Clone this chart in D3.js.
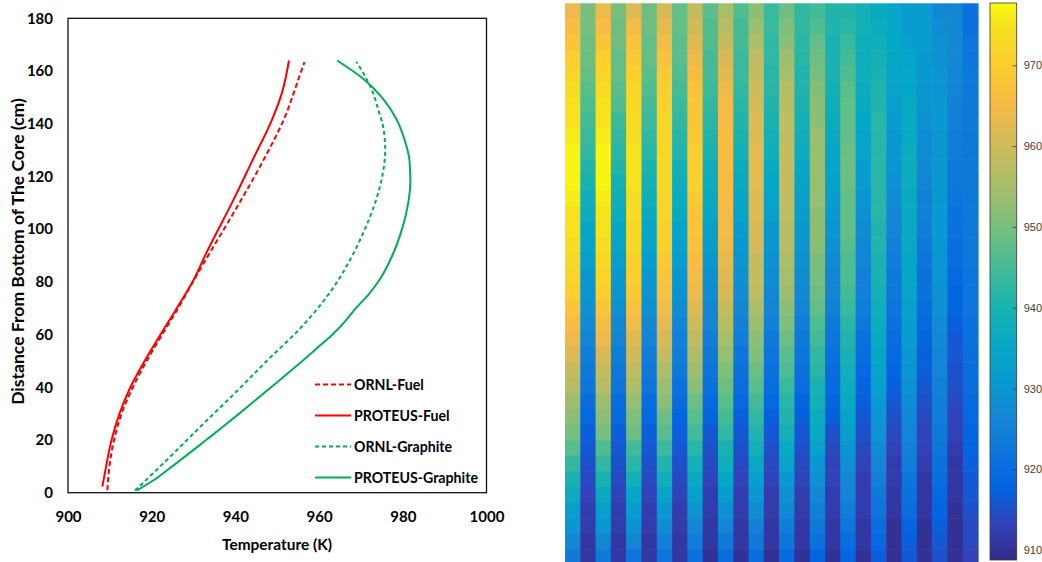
<!DOCTYPE html>
<html>
<head>
<meta charset="utf-8">
<script src="https://cdn.jsdelivr.net/npm/d3@7"></script>
<style>
  html, body { margin: 0; padding: 0; background: #fff; overflow: hidden; }
  svg { display: block; }
</style>
</head>
<body>
<svg id="fig" width="1042" height="562"></svg>
<script>
// ---------- Axial temperature profiles: temperature (K) vs. height (cm) ----------
const ornlFuelT    = [909.4, 909.9, 911.0, 912.8, 915.5, 918.8, 922.5, 926.3, 930.1, 933.8, 939.5, 946.7, 951.5, 955.3, 956.5];
const ornlFuelH    = [1, 10, 20, 30, 40, 50, 60, 70, 80.7, 90.8, 106, 126.2, 141.4, 158, 163.4];
const proteusFuelT = [908.2, 909.1, 910.4, 912.3, 914.9, 918.3, 922.1, 926.0, 930.0, 933.0, 939.5, 944.1, 948.7, 951.1, 952.8];
const proteusFuelH = [2.3, 10, 20, 30, 40, 50, 60, 70, 80.7, 90.8, 111, 126.2, 141.4, 151.6, 164];
const ornlGraphT   = [916.0, 923.6, 931.6, 940.0, 947.5, 955.5, 960.3, 964.6, 968.2, 971.2, 973.6, 975.2, 975.8, 975.3, 974.2, 972.6, 970.6, 968.9];
const ornlGraphH   = [0.8, 12.4, 25, 38, 50, 62.4, 71.2, 80.7, 90.8, 101, 111, 121, 130, 138.9, 145, 152.8, 159.1, 163.5];
const proteusGraphT = [916.4, 920.7, 924.9, 929.0, 933.0, 937.0, 940.9, 944.7, 948.5, 952.3, 956.0, 959.6, 963.2, 966.2, 968.8, 971.7, 974.4, 977.5, 979.8, 981.3, 981.8, 981.6, 980.4, 978.4, 975.0, 970.6, 964.3];
const proteusGraphH = [0.8, 5, 10, 15, 20, 25, 30, 35, 40, 45, 50, 55, 60, 65, 70, 75, 80.7, 90, 100, 110, 118, 126, 134, 142, 150, 157, 164];

const seriesNames = ["ORNL-Fuel", "PROTEUS-Fuel", "ORNL-Graphite", "PROTEUS-Graphite"];
const xTicks = [900, 920, 940, 960, 980, 1000];
const yTicks = [0, 20, 40, 60, 80, 100, 120, 140, 160, 180];
const colorbarTicks = [910, 920, 930, 940, 950, 960, 970];
const colorbarRange = [908.8, 977.7];

// ---------- Channel temperature map (K): one array per channel column, rows top -> bottom ----------
const channelTemps = [
  [964,966,968,970,972,974,975,975,976,977,977,977,976,975,975,974,973,972,970,968,966,964,962,959,957,954,952,950,947,943,940,937,933,930,927,923],
  [950,950,949,949,948,947,946,945,944,943,941,940,938,937,935,934,933,931,930,929,928,926,924,923,922,920,919,917,916,915,914,913,912,912,911,911],
  [964,966,968,970,972,974,975,975,976,977,977,977,976,975,975,974,973,972,970,968,966,964,961,959,957,954,952,950,946,943,940,936,933,930,926,923],
  [950,949,949,948,948,947,946,944,943,942,941,939,938,937,935,934,933,931,930,929,927,926,924,923,922,920,919,917,916,915,914,913,912,912,911,911],
  [962,965,967,969,971,972,973,974,974,975,975,975,974,974,973,973,971,970,969,967,965,962,960,958,956,953,951,949,945,942,939,935,932,929,926,922],
  [949,949,948,948,947,946,945,944,943,942,940,939,938,936,935,934,932,931,930,929,927,926,924,923,922,920,919,917,916,915,914,913,912,912,911,911],
  [961,963,965,967,969,970,971,972,972,973,973,973,972,972,971,971,969,968,967,965,963,961,959,956,954,952,949,947,944,941,938,934,931,928,925,922],
  [948,948,947,947,946,945,944,943,942,941,939,938,937,936,934,933,932,930,929,928,927,925,924,923,921,920,918,917,916,915,914,913,912,912,911,911],
  [958,960,962,964,966,967,968,968,969,970,970,970,969,968,968,967,966,965,964,962,960,958,956,954,952,949,947,945,942,939,936,933,930,927,924,921],
  [947,946,946,945,945,944,943,942,941,940,938,937,936,935,933,932,931,929,928,927,926,924,923,922,921,919,918,916,915,914,913,912,912,911,911,910],
  [955,957,959,961,962,964,965,965,966,966,966,966,966,965,965,964,963,962,961,959,957,955,953,951,949,947,945,943,940,938,935,932,929,926,923,920],
  [946,945,945,944,944,943,942,941,940,939,937,936,935,934,932,931,930,929,928,927,925,924,922,921,920,919,917,916,915,914,913,912,912,911,911,910],
  [952,954,956,958,959,960,961,962,962,963,963,963,962,962,961,961,959,959,958,956,954,952,951,949,947,945,943,941,939,936,933,931,928,925,923,920],
  [944,944,943,943,942,942,941,940,939,938,936,935,934,933,931,930,929,928,927,926,925,923,922,921,920,919,917,916,915,914,913,912,912,911,911,910],
  [949,951,952,954,955,957,957,958,958,959,959,959,958,958,957,957,956,955,954,952,951,949,947,946,944,942,941,939,936,934,931,929,927,924,922,919],
  [943,943,942,942,941,941,940,939,938,937,935,934,933,932,931,930,929,928,927,926,924,923,922,921,920,918,917,916,915,914,913,912,912,911,911,910],
  [945,946,948,949,950,951,952,952,953,953,953,953,953,952,952,952,950,950,949,948,946,945,943,942,940,939,937,936,934,931,929,927,925,923,921,918],
  [941,941,940,940,940,939,938,937,936,935,934,933,932,931,930,929,928,926,926,925,923,922,921,920,919,918,917,915,914,913,913,912,912,911,911,910],
  [941,942,944,945,946,947,948,948,948,949,949,949,948,948,948,947,946,946,945,944,942,941,940,939,937,936,934,933,931,929,927,926,924,922,920,918],
  [939,939,938,938,938,937,936,935,934,934,932,932,930,929,928,927,927,925,925,924,923,921,920,919,918,917,916,915,914,913,912,912,912,911,911,910],
  [936,937,938,939,940,941,941,942,942,942,942,942,942,942,941,941,940,940,939,938,937,936,935,934,933,932,931,930,928,926,925,923,922,920,919,917],
  [935,935,935,935,934,934,933,932,931,931,930,929,928,927,926,925,924,923,923,922,921,920,919,918,917,916,915,914,913,912,912,911,911,910,910,910],
  [932,932,933,934,935,935,936,936,936,937,937,937,936,936,936,936,935,935,934,933,932,932,931,930,929,928,927,926,925,924,922,921,920,918,917,916],
  [932,932,932,931,931,930,930,929,928,928,927,926,925,925,924,923,922,921,921,920,919,918,917,917,916,915,914,913,913,912,911,911,911,910,910,910],
  [927,928,929,929,930,930,931,931,931,931,931,931,931,931,931,930,930,930,929,929,928,927,926,926,925,924,924,923,922,921,920,919,918,917,916,915],
  [927,927,927,927,926,926,925,925,924,924,923,923,922,921,921,920,920,919,918,918,917,916,916,915,915,914,913,913,912,911,911,911,910,910,910,910],
  [921,921,922,922,923,923,923,923,923,923,923,923,923,923,923,923,923,922,922,922,921,921,920,920,920,919,919,918,918,917,916,916,915,914,914,913]
];

// ---------- Parula colour map stops ----------
const parulaStops = [
  [0.2081,0.1663,0.5292],[0.1959,0.2645,0.7279],[0.0117,0.3875,0.8820],[0.0498,0.4586,0.8641],
  [0.0793,0.5200,0.8312],[0.0343,0.5966,0.8199],[0.0228,0.6535,0.7768],[0.0843,0.6928,0.7062],
  [0.2178,0.7250,0.6193],[0.3953,0.7459,0.5244],[0.5709,0.7485,0.4494],[0.7184,0.7411,0.3905],
  [0.8507,0.7299,0.3360],[0.9739,0.7314,0.2666],[0.9880,0.8066,0.1794],[0.9626,0.8705,0.1309],
  [0.9763,0.9831,0.0538]
];
const parulaPos = [0,4,8,12,16,20,24,28,32,36,40,44,48,52,56,60,63].map(i => i / 63);
const parulaHex = parulaStops.map(c => d3.rgb(c[0]*255, c[1]*255, c[2]*255).formatHex());

const svg = d3.select("#fig");
const FONT = "Lato, 'Open Sans', 'DejaVu Sans', sans-serif";

// scale a text element's font so that it spans the given width
function fitWidth(sel, width) {
  const len = sel.node().getComputedTextLength();
  if (len > 0) sel.attr("font-size", (+sel.attr("font-size")) * width / len);
}

// ================= Left panel: line chart =================
const plot = { left: 68, right: 486.5, top: 18.3, bottom: 492.7 };
const x = d3.scaleLinear().domain([900, 1000]).range([plot.left, plot.right]);
const y = d3.scaleLinear().domain([0, 180]).range([plot.bottom, plot.top]);

const series = [
  { name: seriesNames[0], T: ornlFuelT,     H: ornlFuelH,     color: "#ff0000", dash: "5,3" },
  { name: seriesNames[1], T: proteusFuelT,  H: proteusFuelH,  color: "#ff0000", dash: null },
  { name: seriesNames[2], T: ornlGraphT,    H: ornlGraphH,    color: "#00b050", dash: "4,3" },
  { name: seriesNames[3], T: proteusGraphT, H: proteusGraphH, color: "#00b050", dash: null }
];

// heights increase monotonically along each profile
const line = d3.line()
  .x(d => x(d[0]))
  .y(d => y(d[1]))
  .curve(d3.curveMonotoneY);

const gLines = svg.append("g");
series.forEach(s => {
  gLines.append("path")
    .datum(s.T.map((t, i) => [t, s.H[i]]))
    .attr("d", line)
    .attr("fill", "none")
    .attr("stroke", s.color)
    .attr("stroke-width", 2)
    .attr("stroke-dasharray", s.dash);
});

// plot frame
svg.append("rect")
  .attr("x", plot.left).attr("y", plot.top)
  .attr("width", plot.right - plot.left).attr("height", plot.bottom - plot.top)
  .attr("fill", "none").attr("stroke", "#111").attr("stroke-width", 1.3);

// axes (labels only, frame drawn above)
const xAxis = svg.append("g")
  .attr("transform", `translate(0,${plot.bottom})`)
  .call(d3.axisBottom(x).tickValues(xTicks).tickSize(0).tickPadding(19).tickFormat(d3.format("d")));
const yAxis = svg.append("g")
  .attr("transform", `translate(${plot.left},0)`)
  .call(d3.axisLeft(y).tickValues(yTicks).tickSize(0).tickPadding(15).tickFormat(d3.format("d")));
[xAxis, yAxis].forEach(a => {
  a.select(".domain").remove();
  a.selectAll("text")
    .attr("font-family", FONT).attr("font-size", 15).attr("font-weight", 700).attr("fill", "#000");
});

const xTitle = svg.append("text")
  .attr("x", 277).attr("y", 550)
  .attr("text-anchor", "middle")
  .attr("font-family", FONT).attr("font-size", 14).attr("font-weight", 700)
  .text("Temperature (K)");
fitWidth(xTitle, 110);

const yTitle = svg.append("text")
  .attr("transform", `translate(24,251.5) rotate(-90)`)
  .attr("text-anchor", "middle")
  .attr("font-family", FONT).attr("font-size", 14).attr("font-weight", 700)
  .text("Distance From Bottom of The Core (cm)");
fitWidth(yTitle, 307);

// legend
const legend = svg.append("g").attr("transform", "translate(315,384.5)");
const legendTexts = [];
series.forEach((s, i) => {
  const row = legend.append("g").attr("transform", `translate(0,${i * 31})`);
  row.append("line")
    .attr("x1", 0).attr("x2", 36).attr("y1", 0).attr("y2", 0)
    .attr("stroke", s.color).attr("stroke-width", 2).attr("stroke-dasharray", s.dash);
  legendTexts.push(row.append("text")
    .attr("x", 39).attr("y", 5.5)
    .attr("font-family", FONT).attr("font-size", 15).attr("font-weight", 700)
    .text(s.name));
});
{
  const longest = legendTexts[3];
  const fs = (+longest.attr("font-size")) * 124 / longest.node().getComputedTextLength();
  legendTexts.forEach(t => t.attr("font-size", fs));
}

// ================= Right panel: channel temperature map =================
const color = d3.scaleLinear()
  .domain(parulaPos.map(p => colorbarRange[0] + p * (colorbarRange[1] - colorbarRange[0])))
  .range(parulaHex)
  .clamp(true);

const nCols = channelTemps.length;
const nRows = channelTemps[0].length;
const map = { left: 565, right: 978, top: 3.3, rowH: 15.6 };
const xb = d3.scaleBand().domain(d3.range(nCols)).range([map.left, map.right]);
const yb = d3.scaleBand().domain(d3.range(nRows)).range([map.top, map.top + nRows * map.rowH]);

const cells = [];
channelTemps.forEach((col, c) => col.forEach((v, r) => cells.push({ c, r, v })));

svg.append("g")
  .selectAll("rect")
  .data(cells)
  .join("rect")
  .attr("x", d => xb(d.c))
  .attr("y", d => yb(d.r))
  .attr("width", xb.bandwidth() + 0.6)
  .attr("height", yb.bandwidth() + 0.6)
  .attr("fill", d => color(d.v));

// colorbar
const cb = { left: 990, right: 1016.7, top: 3, bottom: 560 };
const cbScale = d3.scaleLinear().domain(colorbarRange).range([cb.bottom, cb.top]);

const defs = svg.append("defs");
const grad = defs.append("linearGradient")
  .attr("id", "cbGrad").attr("x1", 0).attr("x2", 0).attr("y1", 1).attr("y2", 0);
parulaPos.forEach((p, i) => {
  grad.append("stop").attr("offset", p).attr("stop-color", parulaHex[i]);
});

svg.append("rect")
  .attr("x", cb.left).attr("y", cb.top)
  .attr("width", cb.right - cb.left).attr("height", cb.bottom - cb.top)
  .attr("fill", "url(#cbGrad)")
  .attr("stroke", "#3a3a3a").attr("stroke-width", 0.8);

const cbAxis = svg.append("g")
  .attr("transform", `translate(${cb.right},0)`)
  .call(d3.axisRight(cbScale).tickValues(colorbarTicks).tickSize(-4).tickPadding(7).tickFormat(d3.format("d")));
cbAxis.select(".domain").remove();
cbAxis.selectAll("line").attr("stroke", "#333").attr("stroke-width", 0.8);
cbAxis.selectAll("text")
  .attr("font-family", "'Liberation Sans', Arial, sans-serif")
  .attr("font-size", 11).attr("fill", "#404040");
</script>
</body>
</html>
